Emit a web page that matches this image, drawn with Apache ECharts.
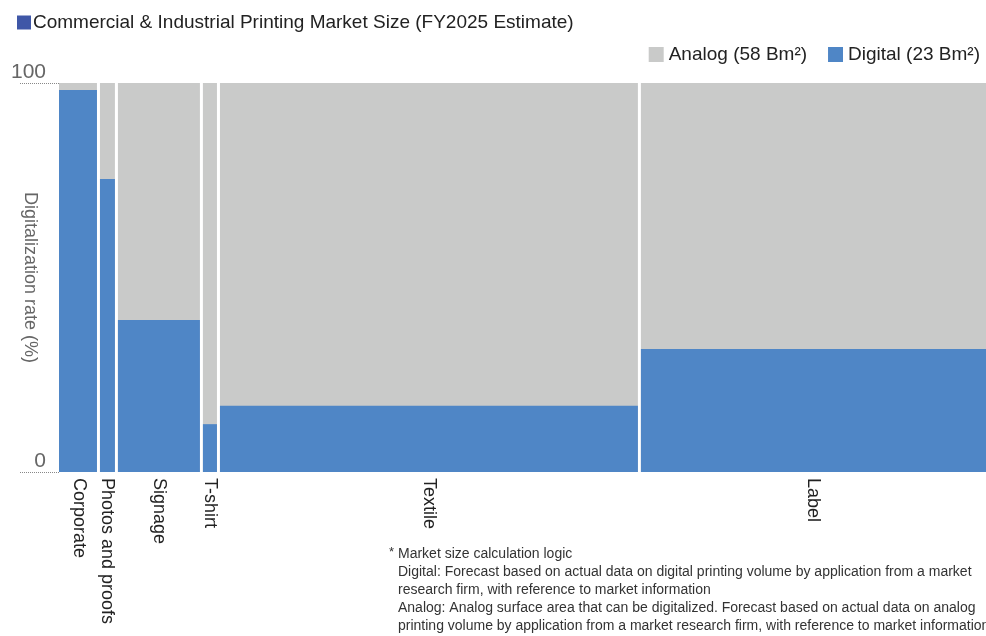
<!DOCTYPE html>
<html>
<head>
<meta charset="utf-8">
<script src="https://cdn.jsdelivr.net/npm/echarts@6/dist/echarts.min.js"></script>
<style>
html, body { margin: 0; padding: 0; background: #fff; }
#main { width: 986px; height: 636px; }
</style>
</head>
<body>
<div id="main"></div>
<script>
// market segments, size in Bm2 (bar width) and digitalization rate in %
var categories = ['Corporate', 'Photos and proofs', 'Signage', 'T-shirt', 'Textile', 'Label'];
var marketSize = [3.45, 1.57, 7.43, 1.49, 36.8, 30.3];
var digitalRate = [98.2, 75.3, 39.1, 12.3, 17.0, 31.6];
var yTicks = [0, 100];

var blue = '#4f86c6';
var gray = '#c9cac9';

var total = 0;
var rows = [];
var centers = [];
for (var i = 0; i < categories.length; i++) {
    rows.push([total, total + marketSize[i], digitalRate[i], i]);
    centers.push(total + marketSize[i] / 2);
    total += marketSize[i];
}
// small empty margin between the dotted ticks and the first bar
var leftPad = total * 7 / 927;

function makeRender(useRate, color) {
    return function (params, api) {
        var idx = api.value(3);
        var top = useRate ? api.value(2) : 100;
        var p0 = api.coord([api.value(0), 0]);
        var p1 = api.coord([api.value(1), top]);
        var left = p0[0] + (idx > 0 ? 1.5 : 0);
        var right = p1[0] - (idx < categories.length - 1 ? 1.5 : 0);
        return {
            type: 'rect',
            shape: { x: left, y: p1[1], width: right - left, height: p0[1] - p1[1] },
            style: { fill: color }
        };
    };
}

var myChart = echarts.init(document.getElementById('main'));
var option = {
    textStyle: { fontFamily: 'Liberation Sans' },
    title: {
        left: 12,
        top: 8,
        text: '{sq|}{g|}Commercial & Industrial Printing Market Size (FY2025 Estimate)',
        textStyle: {
            fontSize: 19,
            fontWeight: 'normal',
            color: '#222',
            rich: {
                sq: { width: 14, height: 14, backgroundColor: '#3f57a7' },
                g: { width: 2 }
            }
        }
    },
    legend: {
        right: 1,
        top: 40,
        icon: 'rect',
        itemWidth: 15,
        itemHeight: 15,
        itemGap: 21,
        textStyle: { fontSize: 19, color: '#222' },
        data: ['Analog (58 Bm²)', 'Digital (23 Bm²)']
    },
    grid: { left: 52, right: 0, top: 83, bottom: 164, outerBoundsMode: 'none' },
    xAxis: {
        type: 'value',
        min: -leftPad,
        max: total,
        splitLine: { show: false },
        axisLine: { show: false },
        axisTick: { show: false },
        axisLabel: {
            customValues: centers,
            rotate: -90,
            margin: 6,
            fontSize: 18,
            color: '#222',
            padding: [0, 0, 6, 0],
            formatter: function (v) {
                var best = 0;
                for (var k = 0; k < centers.length; k++) {
                    if (Math.abs(centers[k] - v) < Math.abs(centers[best] - v)) best = k;
                }
                return categories[best];
            }
        }
    },
    yAxis: {
        type: 'value',
        min: yTicks[0],
        max: yTicks[1],
        interval: 100,
        name: 'Digitalization rate (%)',
        nameLocation: 'middle',
        nameRotate: -90,
        nameGap: 13,
        nameMoveOverlap: false,
        nameTextStyle: { fontSize: 18, color: '#666' },
        splitLine: { show: false },
        axisLine: { show: false },
        axisTick: { show: true, length: 39, lineStyle: { type: 'dotted', color: '#888', width: 1 } },
        axisLabel: { margin: 6, fontSize: 21, color: '#666', verticalAlign: 'bottom' }
    },
    series: [
        {
            name: 'Analog (58 Bm²)',
            type: 'custom',
            itemStyle: { color: gray },
            renderItem: makeRender(false, gray),
            encode: { x: [0, 1], y: 2 },
            data: rows
        },
        {
            name: 'Digital (23 Bm²)',
            type: 'custom',
            itemStyle: { color: blue },
            renderItem: makeRender(true, blue),
            encode: { x: [0, 1], y: 2 },
            data: rows
        }
    ],
    graphic: [
        { type: 'text', left: 389, top: 546, style: { text: '*', fontSize: 13, fill: '#333', fontFamily: 'Liberation Sans' } },
        {
            type: 'text', left: 398, top: 545,
            style: {
                text: 'Market size calculation logic\n' +
                    'Digital: Forecast based on actual data on digital printing volume by application from a market\n' +
                    'research firm, with reference to market information\n' +
                    'Analog: Analog surface area that can be digitalized. Forecast based on actual data on analog\n' +
                    'printing volume by application from a market research firm, with reference to market information',
                fontSize: 14,
                lineHeight: 18,
                fill: '#333',
                fontFamily: 'Liberation Sans'
            }
        }
    ]
};
myChart.setOption(option);
</script>
</body>
</html>
